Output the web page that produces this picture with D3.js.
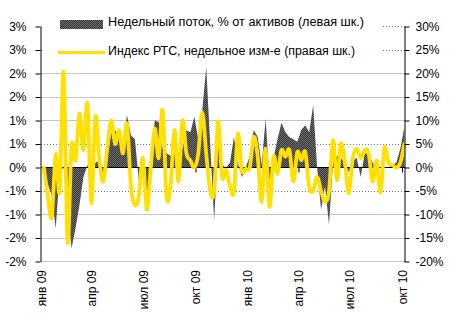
<!DOCTYPE html>
<html><head><meta charset="utf-8">
<script src="https://cdn.jsdelivr.net/npm/d3@7"></script>
<style>
body{margin:0;background:#fff;}
svg{display:block;font-family:"Liberation Sans",Arial,sans-serif;}
</style>
</head><body>
<svg id="c" width="449" height="327"></svg>
<script>
// ---- data ----
const firstWeek = "2009-01-06";
const flowValues = [ // weekly flow, % of assets (left scale)
  0, -0.35, -0.6, -1.3, -0.1, 0, -0.85, -1.72, -1.3, -0.8,
  -0.2, 0.05, 0.05, 0.1, 0.15, -0.2, 0.2, 0.72, 0.78, 0.73,
  0.5, 1.11, 0.68, 0.6, -0.3, -0.05, -0.8, 0.05, 1.0, 0.97,
  0.4, 0.3, 0.25, 0.3, 0.3, 0.4, 0.79, 0.75, 1.08, 0.6,
  1.22, 2.14, 0.5, -1.12, 0.45, 0.05, 0, 0.1, 0.65, 0.1,
  -0.2, 0, 0.25, 0.8, 0.65, 0.05, 1.04, -0.3, 0.2, 0.6,
  0.95, 0.75, 0.65, 0.6, 0.55, 0.8, 0.9, 0.75, 1.33, 0,
  -0.9, -0.4, -1.22, 0.1, 0.25, 0.2, 0.1, -0.1, 0.15, 0.2,
  -0.2, 0.3, 0.3, 0.1, 0, 0, 0, 0, 0.05, 0.1,
  0.4, 0.85
];
const rtsValues = [ // RTS index weekly change, % (right scale)
  0, -6, -10.5, 2.8, -5, 20.3, -15.8, 4.6, 1.6, 11.5,
  3.7, 13.6, -7.6, 10.8, 1.8, -3, 4, 10, 5, 7.9,
  3, 9.3, -4, -8, -6, 2, -9, 0, 8.3, 2,
  12.2, -6.2, -3.7, 8, -3, 10, 3, 1.5, 0, 3,
  11.8, 3, -5, -5, 9.8, -2, -0.5, -4, -5.2, 7.2,
  -0.6, -0.3, 0, 6.5, 2.3, -7.3, 4, -8.4, 2.3, -1.3,
  3.7, 2.3, 3.7, -3, 3.3, 1.5, 3.3, -4.1, -5, -2,
  -5, -7.3, -5, 5.8, -2.7, 5.1, 1, -5.5, 2, 4,
  2, 3.7, 3, -3, 1.5, -5.3, 4.2, 1, 0.5, 0,
  1, 5
];
const leftTicks = [3, 2.5, 2, 1.5, 1, 0.5, 0, -0.5, -1, -1.5, -2];
const leftTickLabels = ["3%","3%","2%","2%","1%","1%","0%","-1%","-1%","-2%","-2%"];
const rightTicks = [30, 25, 20, 15, 10, 5, 0, -5, -10, -15, -20];
const rightTickLabels = ["30%","25%","20%","15%","10%","5%","0%","-5%","-10%","-15%","-20%"];
const solidGrid = [20, 15, 10, -10, -15, -20];
const dottedGrid = [30, 25, 5, -5];
const monthTicks = ["2009-01-01","2009-04-01","2009-07-01","2009-10-01","2010-01-01","2010-04-01","2010-07-01","2010-10-01"];
const monthLabels = ["янв 09","апр 09","июл 09","окт 09","янв 10","апр 10","июл 10","окт 10"];
const axisTickDates = ["2009-04-01","2009-10-01","2010-04-01","2010-10-01"];
const legendLabels = ["Недельный поток, % от активов (левая шк.)", "Индекс РТС, недельное изм-е (правая шк.)"];

// ---- build ----
const parse = d3.utcParse("%Y-%m-%d");
const start = parse(firstWeek);
const data = flowValues.map((f, i) => ({date: d3.utcDay.offset(start, 7 * i), flow: f, rts: rtsValues[i]}));

const svg = d3.select("#c");
const x = d3.scaleUtc().domain([parse(monthTicks[0]), parse(monthTicks[monthTicks.length - 1])]).range([41, 402]);
const yL = d3.scaleLinear().domain([-2, 3]).range([261.5, 26.5]);
const yR = d3.scaleLinear().domain([-20, 30]).range([261.5, 26.5]);
const xLeft = 41, xRight = 405;

const defs = svg.append("defs");
const pat = defs.append("pattern").attr("id", "chk").attr("width", 2).attr("height", 2).attr("patternUnits", "userSpaceOnUse");
pat.append("rect").attr("width", 2).attr("height", 2).attr("fill", "#363636");
pat.append("rect").attr("x", 0).attr("y", 0).attr("width", 1).attr("height", 1).attr("fill", "#6e6e6e");
pat.append("rect").attr("x", 1).attr("y", 1).attr("width", 1).attr("height", 1).attr("fill", "#6e6e6e");

// gridlines
svg.append("g").selectAll("line").data(solidGrid).join("line")
  .attr("x1", xLeft).attr("x2", xRight)
  .attr("y1", d => yR(d)).attr("y2", d => yR(d))
  .attr("stroke", "#c4c4c4").attr("stroke-width", 1).attr("shape-rendering", "crispEdges");
svg.append("g").selectAll("line").data(dottedGrid).join("line")
  .attr("x1", xLeft).attr("x2", xRight)
  .attr("y1", d => yR(d)).attr("y2", d => yR(d))
  .attr("stroke", "#7a7a7a").attr("stroke-width", 1).attr("stroke-dasharray", "1,2").attr("shape-rendering", "crispEdges");

// flow area
svg.append("path").datum(data)
  .attr("d", d3.area().x(d => x(d.date)).y0(yL(0)).y1(d => yL(d.flow)))
  .attr("fill", "url(#chk)");

// zero line
svg.append("line").attr("x1", xLeft).attr("x2", xRight).attr("y1", yL(0)).attr("y2", yL(0))
  .attr("stroke", "#000").attr("stroke-width", 1.2);

// x ticks on zero line
const xAxis = svg.append("g").attr("transform", `translate(0,${yL(0)})`)
  .call(d3.axisBottom(x).tickValues(axisTickDates.map(parse)).tickSize(5).tickFormat(""));
xAxis.select(".domain").remove();
xAxis.selectAll("line").attr("stroke", "#000");

// RTS line
svg.append("path").datum(data)
  .attr("d", d3.line().x(d => x(d.date)).y(d => yR(d.rts)).curve(d3.curveCardinal.tension(0)))
  .attr("fill", "none").attr("stroke", "#ffe000").attr("stroke-width", 3.8)
  .attr("stroke-linejoin", "round").attr("stroke-linecap", "round");

// axes
const la = svg.append("g").attr("transform", `translate(${xLeft - 0.5},0)`)
  .call(d3.axisLeft(yL).tickValues(leftTicks).tickFormat((d, i) => leftTickLabels[i]).tickSize(5).tickSizeOuter(0).tickPadding(9));
const ra = svg.append("g").attr("transform", `translate(${xRight - 0.5},0)`)
  .call(d3.axisRight(yR).tickValues(rightTicks).tickFormat((d, i) => rightTickLabels[i]).tickSize(5).tickSizeOuter(0).tickPadding(6));
[la, ra].forEach(g => {
  g.select(".domain").attr("stroke", "#000");
  g.selectAll("line").attr("stroke", "#000");
  g.selectAll("text").attr("font-size", 12).attr("fill", "#000").attr("font-family", '"Liberation Sans", Arial, sans-serif');
});

// month labels
svg.append("g").selectAll("text").data(monthTicks).join("text")
  .attr("transform", d => `translate(${x(parse(d)) + 4.5},270) rotate(-90)`)
  .attr("text-anchor", "end").attr("font-size", 12).attr("fill", "#000")
  .text((d, i) => monthLabels[i]);

// legend
svg.append("rect").attr("x", 42).attr("y", 14).attr("width", 341).attr("height", 48).attr("fill", "#fff");
svg.append("rect").attr("x", 60).attr("y", 20).attr("width", 43).attr("height", 9).attr("fill", "url(#chk)");
svg.append("line").attr("x1", 58).attr("x2", 105).attr("y1", 52.5).attr("y2", 52.5)
  .attr("stroke", "#ffe000").attr("stroke-width", 3);
const legWidths = [256, 247];
svg.append("g").selectAll("text").data(legendLabels).join("text")
  .attr("x", 108).attr("y", (d, i) => i === 0 ? 26 : 54.5)
  .attr("font-size", 12).attr("fill", "#000")
  .attr("textLength", (d, i) => legWidths[i]).attr("lengthAdjust", "spacingAndGlyphs")
  .text(d => d);
</script>
</body></html>
